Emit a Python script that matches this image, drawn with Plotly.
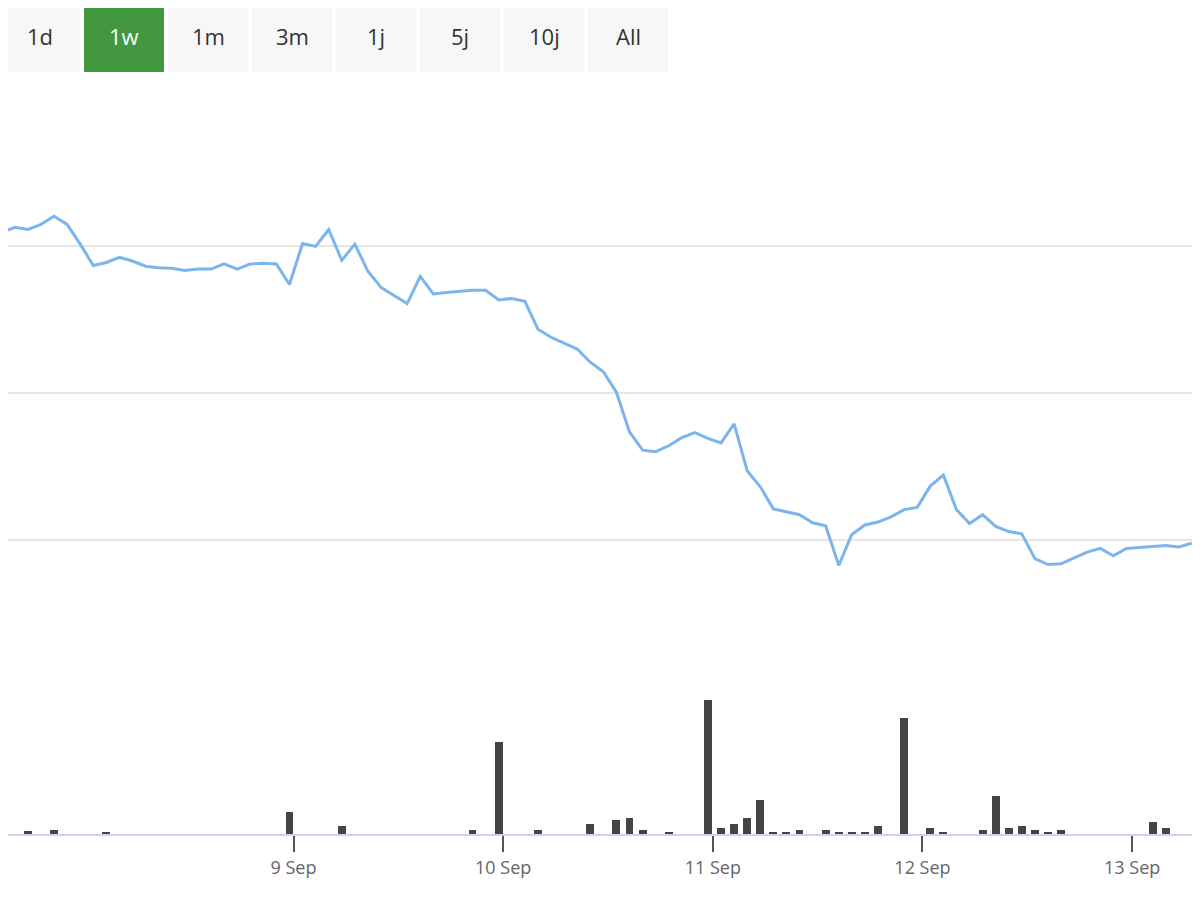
import pandas as pd
import plotly.graph_objects as go
from plotly.subplots import make_subplots

price = [26.19, 26.26, 26.23, 26.30, 26.41, 26.30, 26.03, 25.74, 25.78, 25.85,
         25.80, 25.73, 25.71, 25.70, 25.67, 25.69, 25.69, 25.76, 25.69, 25.76,
         25.77, 25.76, 25.48, 26.04, 26.00, 26.23, 25.81, 26.03, 25.66, 25.44,
         25.33, 25.22, 25.59, 25.35, 25.37, 25.39, 25.40, 25.40, 25.27, 25.29,
         25.25, 24.87, 24.76, 24.68, 24.60, 24.42, 24.29, 24.01, 23.47, 23.22,
         23.20, 23.28, 23.39, 23.46, 23.38, 23.32, 23.58, 22.94, 22.72, 22.42,
         22.38, 22.34, 22.23, 22.19, 21.65, 22.07, 22.20, 22.24, 22.31, 22.41,
         22.44, 22.73, 22.88, 22.41, 22.22, 22.34, 22.18, 22.11, 22.08, 21.74,
         21.66, 21.67, 21.75, 21.83, 21.88, 21.78, 21.88, 21.89, 21.90, 21.92,
         21.90, 21.95]
times = pd.date_range("2024-09-07 14:36", "2024-09-13 06:50", periods=len(price))

# volume at selected indices
vol_idx = [2, 4, 8, 22, 26, 36, 38, 41, 45, 47, 48, 49, 51, 54, 55, 56, 57, 58,
           59, 60, 61, 63, 64, 65, 66, 67, 69, 71, 72, 75, 76, 77, 78, 79, 80,
           81, 88, 89]
vol_val = [3, 4, 2, 22, 8, 4, 92, 4, 10, 14, 16, 4, 2, 134, 6, 10, 16, 34,
           2, 2, 4, 4, 2, 2, 2, 8, 116, 6, 2, 4, 38, 6, 8, 4, 2, 4, 12, 6]
volume = [0] * len(price)
for i, v in zip(vol_idx, vol_val):
    volume[i] = v * 1000

buttons = ["1d", "1w", "1m", "3m", "1j", "5j", "10j", "All"]
active = "1w"

# page body adds an 8px margin, so the figure is 8px smaller and shifted
W, H, T = 1192, 892, 91
PH = 735

fig = make_subplots(rows=2, cols=1, shared_xaxes=True, vertical_spacing=0,
                    row_heights=[0.8, 0.2])
fig.add_trace(go.Scatter(x=times, y=price, mode="lines",
                         line=dict(color="#7cb5ec", width=3), showlegend=False),
              row=1, col=1)
fig.add_trace(go.Bar(x=times, y=volume, marker_color="#434348",
                     marker_line_width=0, width=0.6 * 90 * 60 * 1000, showlegend=False),
              row=2, col=1)

xr = [pd.Timestamp("2024-09-07 15:19"), pd.Timestamp("2024-09-13 07:46")]
ticks = pd.date_range("2024-09-09", "2024-09-13", freq="D")
fig.update_xaxes(range=xr, showgrid=False, zeroline=False)
fig.update_xaxes(row=2, col=1, tickvals=ticks, tickformat="%-d %b", ticks="outside",
                 ticklen=16, tickcolor="#555", tickwidth=2, showline=True,
                 linecolor="#ccd6eb", linewidth=2,
                 tickfont=dict(size=18, color="#666", family="Open Sans"))
fig.update_yaxes(row=1, col=1, range=[19.99, 28.01], tickvals=[20, 22, 24, 26, 28],
                 showticklabels=False, gridcolor="#e6e6e6", gridwidth=2, zeroline=False)
fig.update_yaxes(row=2, col=1, range=[0, 147000], showticklabels=False,
                 showgrid=False, zeroline=False)

shapes, annotations = [], []
for i, b in enumerate(buttons):
    left = max(i * 84 - 8, 0)
    right = i * 84 + 72
    x0, x1 = left / W, right / W
    on = b == active
    shapes.append(dict(type="rect", xref="paper", yref="paper", x0=x0, x1=x1,
                       y0=1 + (T - 64) / PH, y1=1 + T / PH, line_width=0,
                       fillcolor="#43983f" if on else "#f7f7f7"))
    annotations.append(dict(text=b, xref="paper", yref="paper",
                            x=(i * 84 + 32) / W, y=1 + (T - 28) / PH,
                            xanchor="center", yanchor="middle", showarrow=False,
                            font=dict(size=22, color="white" if on else "#333",
                                      family="Open Sans")))

fig.update_layout(width=W, height=H, margin=dict(l=0, r=0, t=T, b=66),
                  plot_bgcolor="white", paper_bgcolor="white", bargap=0,
                  shapes=shapes, annotations=annotations)
fig.write_html("out.html")
